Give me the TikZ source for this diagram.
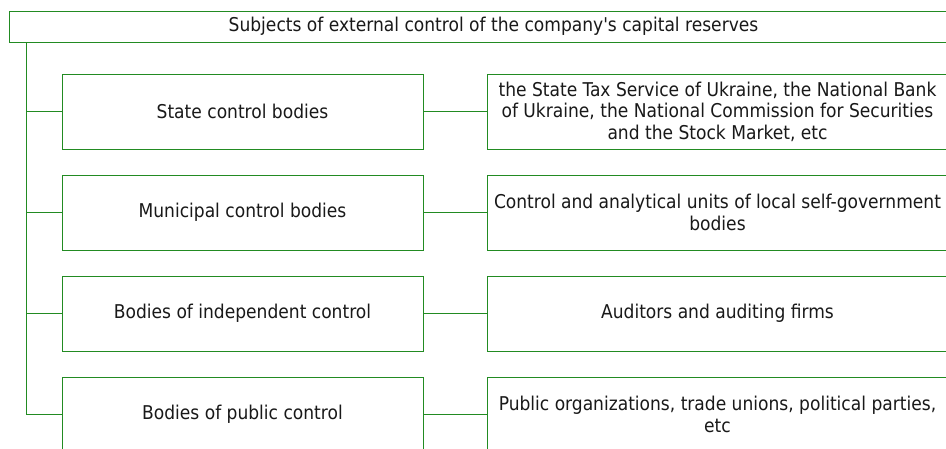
\documentclass[tikz,border=0pt]{standalone}
\usepackage{fontspec}
\newfontfamily\labelfont{DejaVu Sans Condensed}
\begin{document}
\definecolor{linegreen}{RGB}{34,139,34}
\begin{tikzpicture}[x=1pt,y=-1pt,
  box/.style={draw=linegreen,line width=0.8pt,fill=white,rectangle,inner sep=0pt,
    align=center,font=\labelfont\fontsize{19}{21.5}\selectfont,text=black!90},
  conn/.style={draw=linegreen,line width=0.8pt}]
\useasboundingbox (0,0) rectangle (946,448);
\clip (0,0) rectangle (946,448);
\fill[white] (0,0) rectangle (946,448);

% heading
\node[box,minimum width=969pt,minimum height=31pt] (top) at (493.5,26.5)
  {Subjects of external control of the company's capital reserves};

% kinds of control bodies
\node[box,minimum width=361pt,minimum height=75pt] (l1) at (242.5,111.5) {State control bodies};
\node[box,minimum width=361pt,minimum height=75pt] (l2) at (242.5,212.5) {Municipal control bodies};
\node[box,minimum width=361pt,minimum height=75pt] (l3) at (242.5,313.5) {Bodies of independent control};
\node[box,minimum width=361pt,minimum height=75pt] (l4) at (242.5,414.5) {Bodies of public control};

% their members
\node[box,minimum width=461pt,minimum height=75pt] (r1) at (717.5,111.5)
  {the State Tax Service of Ukraine, the National Bank\\of Ukraine, the National Commission for Securities\\and the Stock Market, etc};
\node[box,minimum width=461pt,minimum height=75pt] (r2) at (717.5,212.5)
  {Control and analytical units of local self-government\\bodies};
\node[box,minimum width=461pt,minimum height=75pt] (r3) at (717.5,313.5)
  {Auditors and auditing firms};
\node[box,minimum width=461pt,minimum height=75pt] (r4) at (717.5,414.5)
  {Public organizations, trade unions, political parties,\\etc};

% spine and branches
\coordinate (spine) at (26,0);
\draw[conn] (top.south -| spine) |- (l4.west);
\foreach \i in {1,2,3}{
  \draw[conn] (spine |- l\i.west) -- (l\i.west);
}
\foreach \i in {1,2,3,4}{
  \draw[conn] (l\i.east) -- (r\i.west);
}
\end{tikzpicture}
\end{document}
